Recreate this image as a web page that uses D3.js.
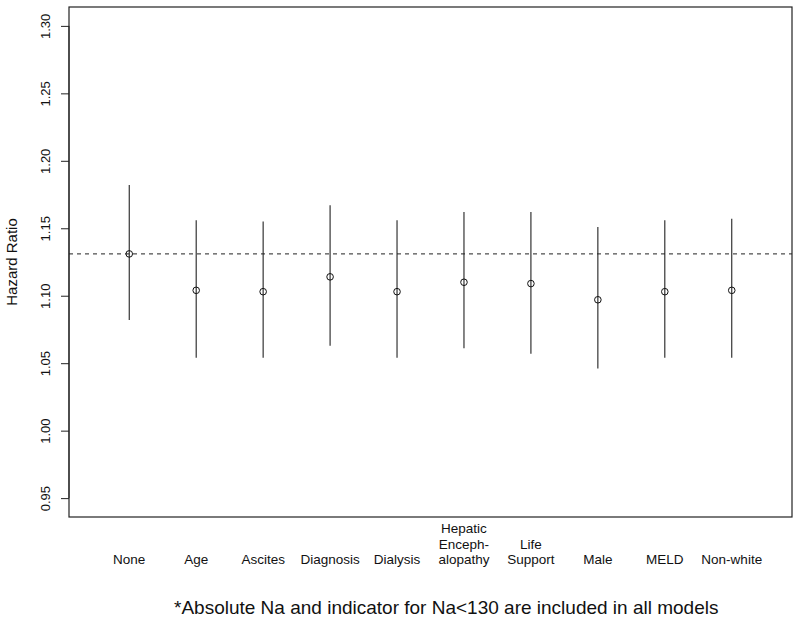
<!DOCTYPE html>
<html>
<head>
<meta charset="utf-8">
<script src="https://cdn.jsdelivr.net/npm/d3@7"></script>
<style>
  body { margin: 0; background: #fff; }
  text { font-family: "Liberation Sans", Arial, Helvetica, sans-serif; fill: #111; }
</style>
</head>
<body>
<svg id="chart" width="800" height="624"></svg>
<script>
// adjustment models, hazard ratio estimate and 95% CI
const models = [["None"], ["Age"], ["Ascites"], ["Diagnosis"], ["Dialysis"],
    ["Hepatic", "Enceph-", "alopathy"], ["Life", "Support"], ["Male"], ["MELD"], ["Non-white"]];
const estimates = [1.131, 1.104, 1.103, 1.114, 1.103, 1.110, 1.109, 1.097, 1.103, 1.104];
const lower = [1.082, 1.054, 1.054, 1.063, 1.054, 1.061, 1.057, 1.046, 1.054, 1.054];
const upper = [1.182, 1.156, 1.155, 1.167, 1.156, 1.162, 1.162, 1.151, 1.156, 1.157];
const yTicks = [0.95, 1.00, 1.05, 1.10, 1.15, 1.20, 1.25, 1.30];
const refLine = 1.131;

const margin = { top: 7, right: 8, bottom: 107, left: 69 };
const width = 800;
const height = 624;

const svg = d3.select("#chart");

// R style axis ranges: xlim c(0.5, 10.5), ylim c(0.95, 1.30), both padded by 4%
const xScale = d3.scaleLinear()
    .domain([0.1, 10.9])
    .range([margin.left, width - margin.right]);

const yScale = d3.scaleLinear()
    .domain([0.95 - 0.014, 1.30 + 0.014])
    .range([height - margin.bottom, margin.top]);

const idx = d3.range(1, estimates.length + 1);

// reference line at the unadjusted estimate
svg.append("line")
    .attr("x1", xScale(0.1))
    .attr("x2", xScale(10.9))
    .attr("y1", yScale(refLine))
    .attr("y2", yScale(refLine))
    .style("stroke", "#222")
    .style("stroke-width", 1)
    .style("stroke-dasharray", "4,4");

// confidence intervals
svg.selectAll(".ci")
    .data(idx)
    .enter().append("line")
    .attr("class", "ci")
    .attr("x1", d => xScale(d))
    .attr("x2", d => xScale(d))
    .attr("y1", d => yScale(lower[d - 1]))
    .attr("y2", d => yScale(upper[d - 1]))
    .style("stroke", "#222")
    .style("stroke-width", 1.1);

// point estimates
svg.selectAll(".point")
    .data(idx)
    .enter().append("circle")
    .attr("class", "point")
    .attr("cx", d => xScale(d))
    .attr("cy", d => yScale(estimates[d - 1]))
    .attr("r", 3.3)
    .style("fill", "none")
    .style("stroke", "#111")
    .style("stroke-width", 1);

// box around the plot
svg.append("rect")
    .attr("x", margin.left)
    .attr("y", margin.top)
    .attr("width", width - margin.right - margin.left)
    .attr("height", height - margin.bottom - margin.top)
    .style("fill", "none")
    .style("stroke", "#222")
    .style("stroke-width", 1.2);

// left axis, labels parallel to the axis as in R
const yAxis = svg.append("g")
    .attr("transform", `translate(${margin.left},0)`)
    .call(d3.axisLeft(yScale).tickValues(yTicks).tickFormat(d3.format(".2f")).tickSize(8).tickSizeOuter(0));

yAxis.select(".domain")
    .attr("d", `M0,${yScale(0.95)}V${yScale(1.30)}`)
    .style("stroke", "#222");

yAxis.selectAll(".tick line").style("stroke", "#222");

yAxis.selectAll(".tick text")
    .attr("x", null)
    .attr("dy", null)
    .attr("text-anchor", "middle")
    .attr("transform", "translate(-19,0) rotate(-90)")
    .style("font-size", "13px")
    .style("font-family", "'Liberation Sans', Arial, sans-serif")
    .style("fill", "#111");

svg.append("text")
    .attr("transform", `translate(17,${(margin.top + height - margin.bottom) / 2}) rotate(-90)`)
    .attr("text-anchor", "middle")
    .style("font-size", "15px")
    .text("Hazard Ratio");

// category labels below the box, last line on a common baseline
const lineHeight = 15.5;
svg.selectAll(".cat")
    .data(idx)
    .enter().append("text")
    .attr("class", "cat")
    .attr("text-anchor", "middle")
    .style("font-size", "13.5px")
    .each(function(d) {
        const lines = models[d - 1];
        d3.select(this).selectAll("tspan")
            .data(lines)
            .enter().append("tspan")
            .attr("x", xScale(d))
            .attr("y", (t, i) => 564 - (lines.length - 1 - i) * lineHeight)
            .text(t => t);
    });

svg.append("text")
    .attr("x", 174)
    .attr("y", 614)
    .style("font-size", "19px")
    .text("*Absolute Na and indicator for Na<130 are included in all models");
</script>
</body>
</html>
